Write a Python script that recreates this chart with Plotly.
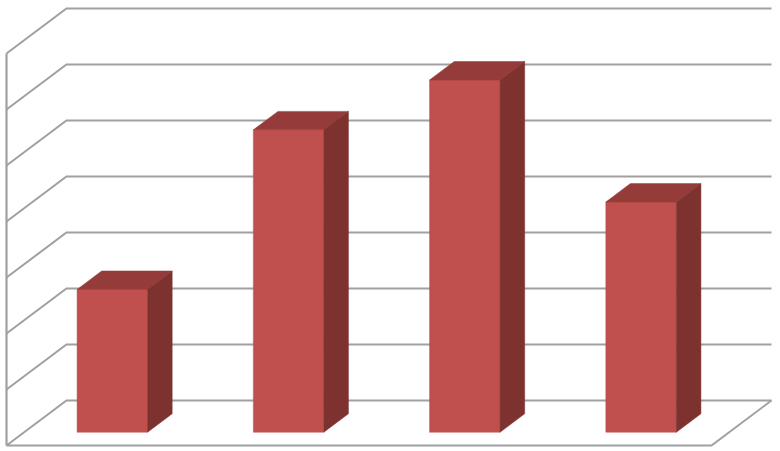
import plotly.graph_objects as go

# ── Data ──────────────────────────────────────────────────────────────────
categories = [0, 1, 2, 3]
values = [2.55, 5.4, 6.29, 4.11]
grid_levels = [0, 1, 2, 3, 4, 5, 6, 7]

# ── Oblique projection: category/value/depth → axis units ─────────────────
UNIT_X = 176.25   # px per category
UNIT_Y = 56.0     # px per value unit
SKEW_X = 60 / UNIT_X
SKEW_Y = 45 / UNIT_Y
BAR_W = 0.4
D0, D1 = 0.295, 0.705   # bar extent in depth


def project(c, v, d):
    return c + SKEW_X * d, v + SKEW_Y * d


def polygon(points, fill):
    xs, ys = zip(*[project(*p) for p in points + points[:1]])
    return go.Scatter(x=xs, y=ys, mode="lines", fill="toself", fillcolor=fill,
                      line=dict(color=fill, width=0.5), hoverinfo="skip",
                      showlegend=False)


def polyline(points, width=2):
    xs, ys = zip(*[project(*p) for p in points])
    return go.Scatter(x=xs, y=ys, mode="lines", hoverinfo="skip", showlegend=False,
                      line=dict(color="#a0a0a0", width=width))


fig = go.Figure()
n = len(categories)

# ── Walls and floor ───────────────────────────────────────────────────────
for level in grid_levels:
    fig.add_trace(polyline([(0, level, 0), (0, level, 1), (n, level, 1)]))
fig.add_trace(polyline([(0, 0, 0), (0, grid_levels[-1], 0)], width=2.2))
fig.add_trace(polyline([(0, 0, 0), (n, 0, 0), (n, 0, 1)]))

# ── Bars: front, top and side faces ───────────────────────────────────────
for c, v in zip(categories, values):
    left = c + 0.5 - BAR_W / 2
    right = c + 0.5 + BAR_W / 2
    fig.add_trace(polygon([(left, 0, D0), (right, 0, D0), (right, v, D0), (left, v, D0)], "#c0504d"))
    fig.add_trace(polygon([(left, v, D0), (right, v, D0), (right, v, D1), (left, v, D1)], "#953b39"))
    fig.add_trace(polygon([(right, 0, D0), (right, 0, D1), (right, v, D1), (right, v, D0)], "#7d3230"))

# ── Layout: axes hidden, ranges fill the whole page ───────────────────────
fig.update_layout(
    width=780, height=451,
    margin=dict(l=0, r=0, t=0, b=0),
    paper_bgcolor="white",
    plot_bgcolor="white",
    xaxis=dict(visible=False, range=[-6.5 / UNIT_X, (780 - 6.5) / UNIT_X]),
    yaxis=dict(visible=False, range=[-5.5 / UNIT_Y, 445.5 / UNIT_Y]),
)

# body margin would push the figure 8px down and right
fig.write_html("out.html", config=dict(displayModeBar=False),
               post_script="document.body.style.margin = '0';")
